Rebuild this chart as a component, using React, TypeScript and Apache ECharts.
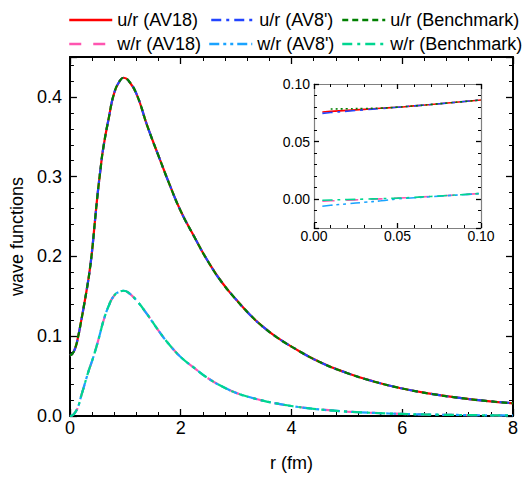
import React, { useEffect, useRef } from "react";
import * as echarts from "echarts";

// ---- main panel data (r in fm) ----
const rMain = [0, 0.05, 0.1, 0.15, 0.2, 0.25, 0.3, 0.35, 0.4, 0.45, 0.5, 0.55, 0.6, 0.7, 0.8, 0.9, 0.97, 1.05, 1.2, 1.4, 1.6, 1.8, 2.0, 2.25, 2.5, 2.75, 3.0, 3.25, 3.5, 3.75, 4.0, 4.5, 5.0, 5.5, 6.0, 6.5, 7.0, 7.5, 8.0];
// u/r : AV18, AV8' and Benchmark coincide at this scale
const uMain = [0.076, 0.0785, 0.086, 0.1, 0.118, 0.137, 0.157, 0.179, 0.207, 0.243, 0.278, 0.308, 0.335, 0.373, 0.405, 0.42, 0.424, 0.421, 0.404, 0.363, 0.326, 0.29, 0.257, 0.224, 0.193, 0.167, 0.146, 0.127, 0.111, 0.098, 0.087, 0.068, 0.054, 0.043, 0.0345, 0.028, 0.023, 0.019, 0.016];
// w/r : AV18, AV8' and Benchmark coincide at this scale
const wMain = [0, 0.001, 0.005, 0.012, 0.0243, 0.036, 0.048, 0.059, 0.069, 0.08, 0.092, 0.105, 0.118, 0.138, 0.151, 0.156, 0.157, 0.155, 0.145, 0.127, 0.107, 0.089, 0.074, 0.06, 0.047, 0.037, 0.029, 0.0235, 0.019, 0.0155, 0.0125, 0.0083, 0.0056, 0.0038, 0.0026, 0.0018, 0.0013, 0.0009, 0.0007];

// ---- inset data (small r) ----
const rInset = [0.005, 0.01, 0.02, 0.03, 0.04, 0.05, 0.06, 0.07, 0.08, 0.09, 0.1];
const uInsetAV18 = [0.0757, 0.0762, 0.0771, 0.078, 0.0789, 0.0798, 0.081, 0.0822, 0.0835, 0.0848, 0.0861];
const uInsetAV8 = [0.0745, 0.0752, 0.0764, 0.0776, 0.0787, 0.0798, 0.081, 0.0822, 0.0835, 0.0848, 0.0861];
const rInsetBench = [0.01, 0.02, 0.03, 0.04, 0.05, 0.06, 0.07, 0.08, 0.09, 0.1];
const uInsetBench = [0.0783, 0.0785, 0.0787, 0.0791, 0.0799, 0.081, 0.0822, 0.0835, 0.0848, 0.0861];
const wInsetAV18 = [-0.0017, -0.0014, -0.0009, -0.0003, 0.0003, 0.0009, 0.0016, 0.0024, 0.0032, 0.0041, 0.005];
const wInsetAV8 = [-0.0061, -0.0053, -0.004, -0.0027, -0.0014, 0.0003, 0.0012, 0.0022, 0.0031, 0.004, 0.005];
const wInsetBench = [-0.0009, -0.0007, -0.0003, 0.0001, 0.0005, 0.0009, 0.0016, 0.0024, 0.0032, 0.0041, 0.005];

const names = ["u/r (AV18)", "u/r (AV8')", "u/r (Benchmark)", "w/r (AV18)", "w/r (AV8')", "w/r (Benchmark)"];
const colors = ["#ff0000", "#2244ff", "#008000", "#ff55b0", "#1aa3ff", "#00d690"];
const dashes: any[] = ["solid", [10, 5, 3, 5], [6, 4], [12, 12], [10, 4, 3, 4, 3, 4], [10, 5, 3, 5]];

const FONT = "'Liberation Sans', Arial, sans-serif";

function zip(xs: number[], ys: number[]) {
  return xs.map((x, i) => [x, ys[i]]);
}

function axisCommon(color: string, lw: number, major: number, minor: number, fs: number, showLabel: boolean, fmt?: (v: number) => string, margin = 4) {
  return {
    type: "value",
    axisLine: { show: true, onZero: false, lineStyle: { color, width: lw } },
    axisTick: { show: true, inside: true, length: major, lineStyle: { color: "#000", width: 1.3 } },
    minorTick: { show: true, splitNumber: 5, length: minor, lineStyle: { color: "#000", width: 1 } },
    splitLine: { show: false },
    minorSplitLine: { show: false },
    axisLabel: { show: showLabel, fontSize: fs, color: "#000", fontFamily: FONT, margin, formatter: fmt, showMaxLabel: true },
  };
}

export default function App() {
  const ref = useRef<HTMLDivElement>(null);
  useEffect(() => {
    if (!ref.current) return;
    const chart = echarts.init(ref.current, null, { renderer: "svg" });
    const legendPos = [
      [63, 6], [205, 6], [336, 6],
      [63, 30], [203, 30], [336, 30],
    ];
    const legend = names.map((n, i) => ({
      data: [n],
      left: legendPos[i][0],
      top: legendPos[i][1],
      itemWidth: 43,
      itemHeight: 12,
      selectedMode: false,
      itemStyle: { opacity: 0 },
      lineStyle: { width: 2.5 },
      textStyle: { fontSize: 18, color: "#000", fontFamily: FONT },
    }));

    const mainSeries = names.map((n, i) => ({
      name: n,
      type: "line",
      xAxisIndex: 0,
      yAxisIndex: 0,
      data: zip(rMain, i < 3 ? uMain : wMain),
      symbol: "none",
      smooth: true,
      lineStyle: { color: colors[i], width: 2.2, type: dashes[i] },
      itemStyle: { color: colors[i] },
      z: 2 + i,
    }));
    const insetY = [uInsetAV18, uInsetAV8, uInsetBench, wInsetAV18, wInsetAV8, wInsetBench];
    const insetSeries = names.map((n, i) => ({
      name: n,
      type: "line",
      xAxisIndex: 2,
      yAxisIndex: 2,
      data: zip(i === 2 ? rInsetBench : rInset, insetY[i]),
      symbol: "none",
      smooth: true,
      lineStyle: { color: colors[i], width: 1.6, type: i === 2 ? [2, 3] : dashes[i] },
      itemStyle: { color: colors[i] },
      z: 10 + i,
    }));

    chart.setOption({
      animation: false,
      textStyle: { fontFamily: FONT },
      legend,
      grid: [
        { left: 67, right: 11, top: 57, bottom: 60, show: false },
        { left: 314, top: 84, width: 167, height: 144, show: true, backgroundColor: "#fff", borderWidth: 0, z: 5 },
      ],
      xAxis: [
        {
          ...axisCommon("#000", 2, 7, 4, 18, true, (v: number) => String(v), 3),
          gridIndex: 0, min: 0, max: 8, interval: 2, position: "bottom",
          name: "r (fm)", nameLocation: "middle", nameGap: 38,
          nameTextStyle: { fontSize: 18, color: "#000", fontFamily: FONT },
        },
        { ...axisCommon("#000", 2, 7, 4, 18, false), gridIndex: 0, min: 0, max: 8, interval: 2, position: "top" },
        {
          ...axisCommon("#808080", 1.2, 5, 3, 14, true, (v: number) => v.toFixed(2), 1),
          gridIndex: 1, min: 0, max: 0.1, interval: 0.05, position: "bottom", z: 6,
        },
        { ...axisCommon("#808080", 1.2, 5, 3, 14, false), gridIndex: 1, min: 0, max: 0.1, interval: 0.05, position: "top", z: 6 },
      ],
      yAxis: [
        {
          ...axisCommon("#000", 2, 7, 4, 18, true, (v: number) => v.toFixed(1), 8),
          gridIndex: 0, min: 0, max: 0.45, interval: 0.1, position: "left",
          axisLabel: { fontSize: 18, color: "#000", fontFamily: FONT, margin: 8, formatter: (v: number) => v.toFixed(1), showMaxLabel: false },
          name: "wave functions", nameLocation: "middle", nameGap: 38,
          nameTextStyle: { fontSize: 18, color: "#000", fontFamily: FONT },
        },
        { ...axisCommon("#000", 2, 7, 4, 18, false), gridIndex: 0, min: 0, max: 0.45, interval: 0.1, position: "right" },
        {
          ...axisCommon("#808080", 1.2, 5, 3, 14, true, (v: number) => v.toFixed(2), 4),
          gridIndex: 1, min: -0.025, max: 0.1, splitNumber: 3, position: "left", z: 6,
          axisLabel: { fontSize: 14, color: "#000", fontFamily: FONT, margin: 4, formatter: (v: number) => v.toFixed(2), showMinLabel: false },
        },
        { ...axisCommon("#808080", 1.2, 5, 3, 14, false), gridIndex: 1, min: -0.025, max: 0.1, splitNumber: 3, position: "right", z: 6 },
      ],
      series: [...mainSeries, ...insetSeries],
    });
    return () => chart.dispose();
  }, []);
  return <div ref={ref} style={{ width: 524, height: 477, position: "absolute", left: 0, top: 0 }} />;
}
